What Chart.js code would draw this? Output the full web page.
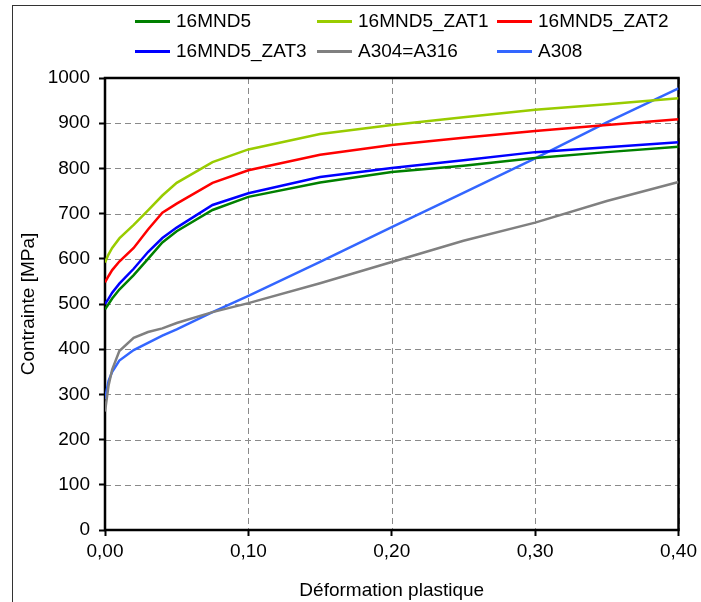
<!DOCTYPE html>
<html lang="fr">
  <head>
    <meta charset="UTF-8" />
    <title>Contrainte - Déformation plastique</title>
    <script src="https://cdn.jsdelivr.net/npm/chart.js"></script>
    <style>
      body { margin: 0; background: #fff; font-family: "Liberation Sans", Arial, sans-serif; }
      #wrap { position: relative; width: 701px; height: 602px; overflow: hidden; }
      #frame { position: absolute; left: 12px; top: 5px; width: 760px; height: 700px; border: 1px solid #333; }
      #chart { position: absolute; left: 0; top: 0; }
      #legend { position: absolute; left: 135px; top: 6px; display: grid; grid-template-columns: 182px 180px 180px; }
      .item { display: flex; align-items: center; height: 30px; font-size: 19px; color: #000; white-space: nowrap; }
      .swatch { width: 35px; height: 3px; margin-right: 6px; }
    </style>
  </head>
  <body>
    <div id="wrap">
      <div id="frame"></div>
      <canvas id="chart" width="701" height="602"></canvas>
      <div id="legend"></div>
    </div>

    <script>
      // strain grid shared by all curves
      const strain = [0, 0.0025, 0.005, 0.01, 0.02, 0.03, 0.04, 0.05, 0.075, 0.10, 0.15, 0.20, 0.25, 0.30, 0.35, 0.40];

      const mnd5     = [488, 500, 512, 532, 564, 600, 636, 661, 708, 737, 769, 792, 806, 823, 836, 848];
      const mnd5Zat1 = [592, 610, 624, 645, 675, 707, 740, 768, 814, 842, 876, 896, 913, 930, 942, 955];
      const mnd5Zat2 = [548, 562, 575, 594, 624, 665, 702, 722, 768, 796, 830, 852, 868, 883, 896, 909];
      const mnd5Zat3 = [500, 512, 525, 545, 578, 615, 646, 669, 719, 745, 781, 801, 818, 836, 847, 858];
      const a304     = [262, 320, 355, 396, 425, 438, 446, 458, 482, 502, 546, 593, 640, 680, 728, 770];
      const a308     = [290, 330, 350, 375, 398, 414, 430, 444, 482, 518, 593, 670, 746, 822, 902, 977];

      const names = ["16MND5", "16MND5_ZAT1", "16MND5_ZAT2", "16MND5_ZAT3", "A304=A316", "A308"];
      const values = [mnd5, mnd5Zat1, mnd5Zat2, mnd5Zat3, a304, a308];
      const colors = ["#008000", "#99cc00", "#ff0000", "#0000ff", "#808080", "#3366ff"];

      const xTicks = [0, 0.1, 0.2, 0.3, 0.4];
      const yTicks = [0, 100, 200, 300, 400, 500, 600, 700, 800, 900, 1000];

      const datasets = names.map((name, i) => ({
        label: name,
        data: strain.map((x, k) => ({ x: x, y: values[i][k] })),
        borderColor: colors[i],
        backgroundColor: colors[i],
        borderWidth: 2.5,
        pointRadius: 0,
        showLine: true,
        tension: 0,
      }));

      // html legend, three columns like the original
      const legend = document.getElementById("legend");
      names.forEach((name, i) => {
        const item = document.createElement("div");
        item.className = "item";
        item.innerHTML = '<span class="swatch" style="background:' + colors[i] + '"></span><span>' + name + "</span>";
        legend.appendChild(item);
      });

      // dashed grid + black box round the plot area
      const plotFrame = {
        id: "plotFrame",
        beforeDatasetsDraw(chart) {
          const { ctx, chartArea: a, scales } = chart;
          ctx.save();
          ctx.strokeStyle = "#8a8a8a";
          ctx.lineWidth = 1;
          ctx.setLineDash([6, 4]);
          scales.x.ticks.forEach((t) => {
            const px = Math.round(scales.x.getPixelForValue(t.value)) + 0.5;
            ctx.beginPath();
            ctx.moveTo(px, a.top);
            ctx.lineTo(px, a.bottom);
            ctx.stroke();
          });
          scales.y.ticks.forEach((t) => {
            const py = Math.round(scales.y.getPixelForValue(t.value)) + 0.5;
            ctx.beginPath();
            ctx.moveTo(a.left, py);
            ctx.lineTo(a.right, py);
            ctx.stroke();
          });
          ctx.setLineDash([]);
          ctx.strokeStyle = "#000";
          ctx.lineWidth = 2.5;
          ctx.strokeRect(a.left, a.top, a.right - a.left, a.bottom - a.top);
          ctx.restore();
        },
      };

      const font = { family: "'Liberation Sans', Arial, sans-serif", size: 19 };

      new Chart(document.getElementById("chart").getContext("2d"), {
        type: "scatter",
        data: { datasets: datasets },
        options: {
          responsive: false,
          animation: false,
          layout: { padding: { left: 12, top: 78, right: 20, bottom: 0 } },
          plugins: { legend: { display: false }, tooltip: { enabled: false } },
          scales: {
            x: {
              type: "linear",
              min: 0,
              max: 0.4,
              afterBuildTicks: (s) => { s.ticks = xTicks.map((v) => ({ value: v })); },
              afterFit: (s) => { s.height = 72; },
              ticks: {
                color: "#000",
                font: font,
                padding: 4,
                maxRotation: 0,
                callback: (v) => v.toFixed(2).replace(".", ","),
              },
              grid: { drawOnChartArea: false, tickColor: "#000", tickLength: 6, tickWidth: 2 },
              border: { display: false },
              title: { display: true, text: "Déformation plastique", color: "#000", font: font, padding: { top: 0, bottom: 0 } },
            },
            y: {
              min: 0,
              max: 1000,
              afterBuildTicks: (s) => { s.ticks = yTicks.map((v) => ({ value: v })); },
              afterFit: (s) => { s.width = 93; },
              ticks: { color: "#000", font: font, padding: 9, callback: (v) => String(v) },
              grid: { drawOnChartArea: false, tickColor: "#000", tickLength: 6, tickWidth: 2 },
              border: { display: false },
              title: { display: true, text: "Contrainte [MPa]", color: "#000", font: font, padding: { top: 5, bottom: 0 } },
            },
          },
        },
        plugins: [plotFrame],
      });
    </script>
  </body>
</html>
